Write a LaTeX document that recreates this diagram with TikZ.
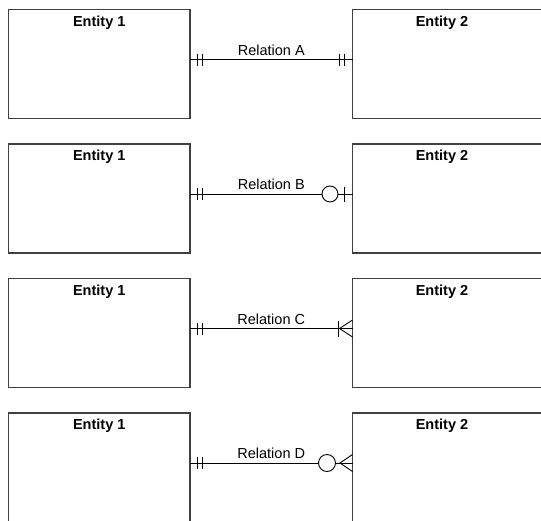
\documentclass[tikz,border=0pt]{standalone}
\usepackage{fontspec}
\setmainfont{Liberation Sans}
\usetikzlibrary{calc}
\begin{document}
\begin{tikzpicture}[x=1pt,y=-1pt,
  ebox/.style={draw=black!75,line width=1.2pt,fill=white,rectangle,minimum width=181.5pt,minimum height=109pt,inner sep=0pt},
  rbox/.style={ebox,minimum width=200pt},
  etitle/.style={anchor=base,font=\fontsize{14.5}{16}\selectfont\bfseries,inner sep=0pt},
  rtitle/.style={anchor=base,font=\fontsize{14.5}{16}\selectfont,inner sep=0pt},
  conn/.style={draw=black,line width=0.9pt},
  ermark/.style={draw=black,line width=0.9pt}
]
\useasboundingbox (0,0) rectangle (541,520);
\clip (0,0) rectangle (541,520);
\fill[white] (0,0) rectangle (541,520);
\foreach \n/\t in {a/9.5,b/144,c/278.5,d/413}{
  \node[ebox] (L\n) at (99.25,\t+54.5) {};
  \node[rbox] (R\n) at (452.5,\t+54.5) {};
  \node[etitle] (TL\n) at (99.25,\t+16.5) {Entity 1};
  \node[etitle] (TR\n) at (442,\t+16.5) {Entity 2};
  \coordinate (l\n) at (190,\t+50);
  \coordinate (r\n) at (352.5,\t+50);
  \draw[conn] (l\n) -- (r\n);
  \draw[ermark] ($(l\n)+(7,-6)$) -- ++(0,12);
  \draw[ermark] ($(l\n)+(12,-6)$) -- ++(0,12);
}
\node[rtitle] (relA) at ($(la)!0.5!(ra)+(0,-4.5)$) {Relation A};
\node[rtitle] (relB) at ($(lb)!0.5!(rb)+(0,-4.5)$) {Relation B};
\node[rtitle] (relC) at ($(lc)!0.5!(rc)+(0,-4.5)$) {Relation C};
\node[rtitle] (relD) at ($(ld)!0.5!(rd)+(0,-4.5)$) {Relation D};
% A: mandatory one on the right
\draw[ermark] ($(ra)+(-13,-6)$) -- ++(0,12);
\draw[ermark] ($(ra)+(-8,-6)$) -- ++(0,12);
% B: zero or one
\draw[ermark,fill=white] ($(rb)+(-22.5,0)$) circle[radius=8];
\draw[ermark] ($(rb)+(-8,-7.5)$) -- ++(0,15);
% C: one or many
\draw[ermark] ($(rc)+(-14,-8)$) -- ++(0,16);
\draw[ermark] ($(rc)+(0,-8.5)$) -- ($(rc)+(-13,0)$) -- ($(rc)+(0,8.5)$);
% D: zero or many
\draw[ermark,fill=white] ($(rd)+(-25.5,0)$) circle[radius=8.5];
\draw[ermark] ($(rd)+(0,-8.5)$) -- ($(rd)+(-12.5,0)$) -- ($(rd)+(0,8.5)$);
\end{tikzpicture}
\end{document}
